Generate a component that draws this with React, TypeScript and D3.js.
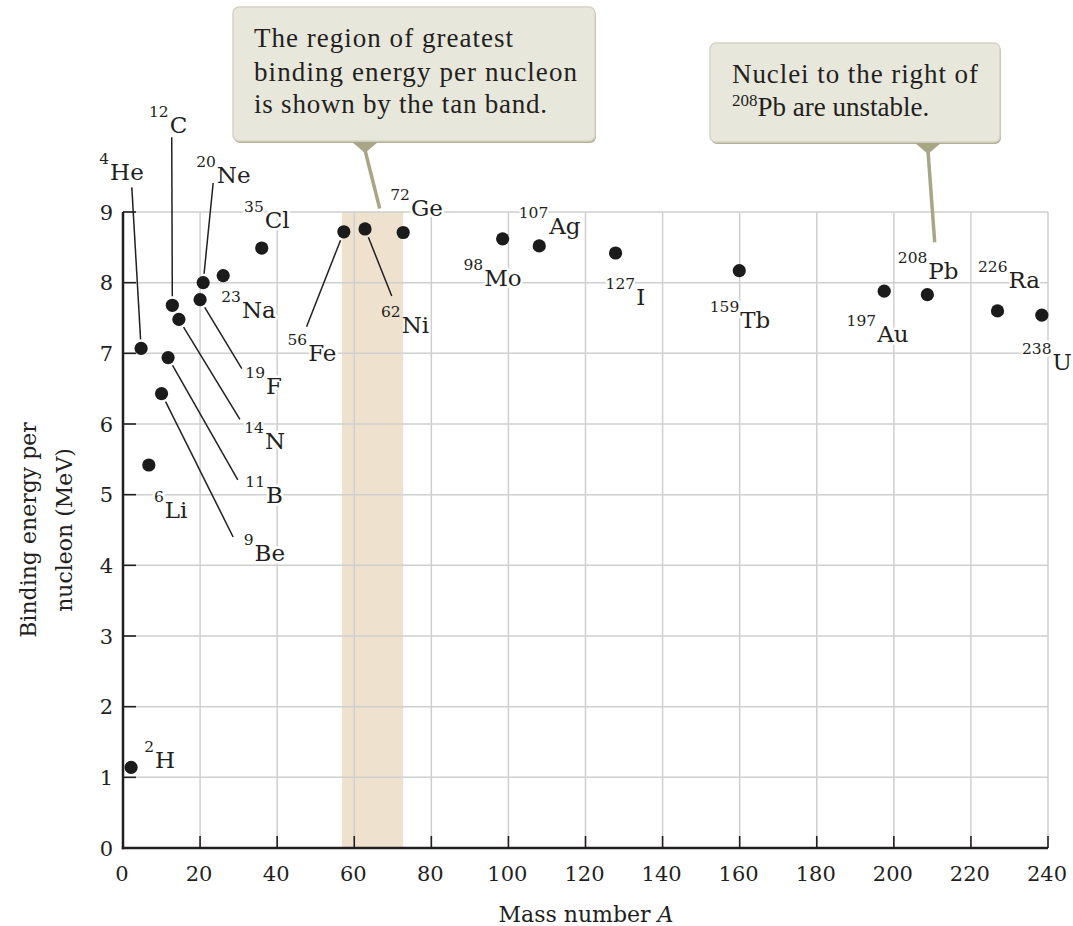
import * as d3 from 'd3'

// nuclides
const symbols = ['H', 'He', 'Li', 'Be', 'B', 'C', 'N', 'F', 'Ne', 'Na', 'Cl', 'Fe', 'Ni', 'Ge', 'Mo', 'Ag', 'I', 'Tb', 'Au', 'Pb', 'Ra', 'U']
const massNumbers = [2, 4, 6, 9, 11, 12, 14, 19, 20, 23, 35, 56, 62, 72, 98, 107, 127, 159, 197, 208, 226, 238]
const massA = [2.1, 4.7, 6.7, 10.0, 11.7, 12.8, 14.5, 20.0, 20.8, 26.0, 36.0, 57.3, 62.8, 72.7, 98.5, 108.0, 127.8, 159.9, 197.5, 208.7, 226.9, 238.4]
const bindingEnergy = [1.14, 7.07, 5.42, 6.43, 6.94, 7.68, 7.48, 7.76, 8.0, 8.1, 8.49, 8.72, 8.76, 8.71, 8.62, 8.52, 8.42, 8.17, 7.88, 7.83, 7.6, 7.54]

const xTicks = [0, 20, 40, 60, 80, 100, 120, 140, 160, 180, 200, 220, 240]
const yTicks = [0, 1, 2, 3, 4, 5, 6, 7, 8, 9]
const tanBand = [56.8, 72.7]

const callout1 = ['The region of greatest', 'binding energy per nucleon', 'is shown by the tan band.']
const callout2 = ['Nuclei to the right of', 'are unstable.']

// label placement (pixel offsets from the dot): [dx, dy] of symbol start / baseline, optional leader end
const labelLayout: Record<string, { d: [number, number]; leader?: [number, number]; noHalo?: boolean }> = {
  H: { d: [23, 1] },
  He: { d: [-32, -168], leader: [-9.3, -161] },
  Li: { d: [15, 53] },
  Be: { d: [92, 167], leader: [71.6, 143.4] },
  B: { d: [97, 145], leader: [69.7, 122.3] },
  C: { d: [-3.6, -172], leader: [-0.6, -168] },
  N: { d: [85, 130], leader: [61, 100] },
  F: { d: [65, 94], leader: [41.7, 69] },
  Ne: { d: [12.7, -99.4], leader: [10, -99.7] },
  Na: { d: [17.7, 42] },
  Cl: { d: [2, -20.4] },
  Fe: { d: [-36.7, 129.3], leader: [-37.3, 95] },
  Ni: { d: [35.7, 103.7], leader: [26.7, 67], noHalo: true },
  Ge: { d: [6.7, -16.7] },
  Mo: { d: [-19.4, 47] },
  Ag: { d: [9, -12] },
  I: { d: [19.6, 52.3] },
  Tb: { d: [0, 57.6] },
  Au: { d: [-8, 50.7] },
  Pb: { d: [0, -16] },
  Ra: { d: [10, -22.7] },
  U: { d: [9.7, 55] },
}

const W = 1073
const H = 926
const serif = '"DejaVu Serif", serif'
const bookSerif = '"Liberation Serif", serif'
const ink = '#231f20'
const grid = '#cfcfcf'
const boxFill = '#e8e7dc'
const boxEdge = '#d4d3c3'
const boxShadow = '#b3b196'
const pointer = '#a8a686'

export default function App() {
  const x = d3.scaleLinear().domain([0, 240]).range([123, 1048])
  const y = d3.scaleLinear().domain([0, 9]).range([848, 212])

  const points = symbols.map((s, i) => ({ s, m: massNumbers[i], px: x(massA[i]), py: y(bindingEnergy[i]) }))

  const Callout = ({ bx, by, bw, bh, tip, target }: any) => {
    const [tx, ty] = target
    const apexY = by + bh + 12
    return (
      <g>
        <rect x={bx + 1} y={by + 2} width={bw} height={bh} rx={6} fill={boxShadow} />
        <rect x={bx} y={by} width={bw} height={bh} rx={6} fill={boxFill} stroke={boxEdge} strokeWidth={1.5} />
        <polygon points={`${tip - 13},${by + bh + 1} ${tip + 13},${by + bh + 1} ${tip},${apexY}`} fill={pointer} />
        <line x1={tip} y1={apexY - 3} x2={tx} y2={ty} stroke={pointer} strokeWidth={3.5} />
      </g>
    )
  }

  return (
    <svg width={W} height={H} style={{ position: 'absolute', left: 0, top: 0, background: '#fff' }}>
      {/* tan band */}
      <rect x={x(tanBand[0])} y={y(9)} width={x(tanBand[1]) - x(tanBand[0])} height={y(0) - y(9)} fill="#eee2cf" />

      {/* grid */}
      {yTicks.filter((t) => t > 0).map((t) => (
        <line key={'gy' + t} x1={x(0)} x2={x(240)} y1={y(t)} y2={y(t)} stroke={grid} strokeWidth={1.5} />
      ))}
      {xTicks.filter((t) => t > 0).map((t) => (
        <line key={'gx' + t} x1={x(t)} x2={x(t)} y1={y(0)} y2={y(9)} stroke={grid} strokeWidth={1.5} />
      ))}

      {/* ticks */}
      {yTicks.filter((t) => t > 0).map((t) => (
        <line key={'ty' + t} x1={x(0)} x2={x(0) + 13} y1={y(t)} y2={y(t)} stroke={ink} strokeWidth={1.6} />
      ))}
      {xTicks.filter((t) => t > 0).map((t) => (
        <line key={'tx' + t} x1={x(t)} x2={x(t)} y1={y(0)} y2={y(0) - 12} stroke={ink} strokeWidth={1.6} />
      ))}

      {/* axes */}
      <line x1={x(0)} x2={x(0)} y1={y(9)} y2={y(0) + 1.2} stroke={ink} strokeWidth={2.5} />
      <line x1={x(0) - 1.2} x2={x(240)} y1={y(0)} y2={y(0)} stroke={ink} strokeWidth={2.5} />

      {/* tick labels */}
      <g fontFamily={serif} fontSize={21} fill={ink}>
        {xTicks.map((t) => (
          <text key={'lx' + t} x={x(t) - 1} y={881} textAnchor="middle">{t}</text>
        ))}
        {yTicks.map((t) => (
          <text key={'ly' + t} x={113} y={y(t)} dy="0.36em" textAnchor="end">{t}</text>
        ))}
      </g>

      {/* axis titles */}
      <text x={586} y={922} textAnchor="middle" fontFamily={serif} fontSize={22} fill={ink}>
        Mass number <tspan fontStyle="italic">A</tspan>
      </text>
      <g fontFamily={serif} fontSize={22} fill={ink} textAnchor="middle">
        <text transform={`translate(36,${y(4.5)}) rotate(-90)`}>Binding energy per</text>
        <text transform={`translate(72,${y(4.5)}) rotate(-90)`}>nucleon (MeV)</text>
      </g>

      {/* leaders */}
      {points.map((p) => {
        const lay = labelLayout[p.s]
        if (!lay.leader) return null
        const [lx, ly] = lay.leader
        const len = Math.hypot(lx, ly)
        const k = 9 / len
        return (
          <line key={'ld' + p.s} x1={p.px + lx * k} y1={p.py + ly * k} x2={p.px + lx} y2={p.py + ly} stroke={ink} strokeWidth={1.5} />
        )
      })}

      {/* labels */}
      {points.map((p) => {
        const lay = labelLayout[p.s]
        const sup = String(p.m)
        return (
          <text
            key={'lb' + p.s}
            x={p.px + lay.d[0]}
            y={p.py + lay.d[1]}
            fontFamily={serif}
            fill={ink}
            stroke={lay.noHalo ? 'none' : '#fff'}
            strokeWidth={5}
            strokeLinejoin="round"
            style={{ paintOrder: 'stroke' }}
          >
            <tspan textAnchor="end" fontSize={15.5} dy={-16}>{sup}</tspan>
            <tspan x={p.px + lay.d[0] + 1} dy={16} fontSize={23}>{p.s}</tspan>
          </text>
        )
      })}

      {/* dots */}
      {points.map((p) => (
        <circle key={'pt' + p.s} cx={p.px} cy={p.py} r={6.6} fill="#1b1b1b" />
      ))}

      {/* callouts */}
      <Callout bx={233} by={7} bw={362} bh={134} tip={365} target={[x(66.6), y(9.05)]} />
      <g fontFamily={bookSerif} fontSize={27} fill={ink}>
        <text x={254} y={47} textLength={259} lengthAdjust="spacing">{callout1[0]}</text>
        <text x={254} y={80.5} textLength={323} lengthAdjust="spacing">{callout1[1]}</text>
        <text x={254} y={113} textLength={293} lengthAdjust="spacing">{callout1[2]}</text>
      </g>
      <Callout bx={710} by={43} bw={290} bh={99} tip={928} target={[x(210.6), y(8.57)]} />
      <g fontFamily={bookSerif} fontSize={27} fill={ink}>
        <text x={732} y={83} textLength={246} lengthAdjust="spacing">{callout2[0]}</text>
        <text x={732} y={116}>
          <tspan fontSize={17} dy={-10}>208</tspan>
          <tspan dy={10}>Pb {callout2[1]}</tspan>
        </text>
      </g>
    </svg>
  )
}
